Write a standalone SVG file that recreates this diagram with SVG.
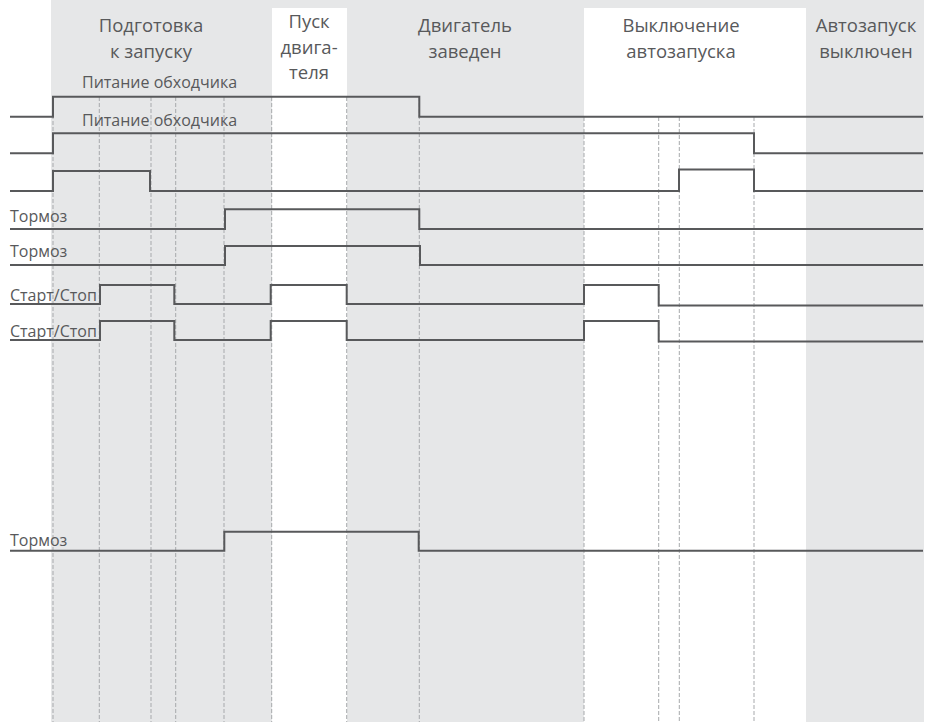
<svg xmlns="http://www.w3.org/2000/svg" width="937" height="722" viewBox="0 0 937 722">
<style>
.bg{fill:#e6e7e8}
.wh{fill:#ffffff}
.grid{stroke:#a7a9ac;stroke-width:1;stroke-dasharray:4 2;fill:none}
.sig{stroke:#58595b;stroke-width:2;fill:none}
.hd{font-family:"Open Sans","Noto Sans",sans-serif;font-size:18.5px;fill:#58595b;text-anchor:middle}
.lb{font-family:"Open Sans","Noto Sans",sans-serif;font-size:16px;fill:#58595b}
</style>
<rect width="937" height="722" fill="#ffffff"/>
<g id="phases">
<rect class="bg" x="51" y="0" width="873" height="722"/>
<rect class="wh" x="272" y="8" width="75" height="714"/>
<rect class="wh" x="584" y="8" width="222" height="714"/>
</g>
<g id="headers">
<text class="hd" x="151" y="32">Подготовка</text>
<text class="hd" x="151" y="58">к запуску</text>
<text class="hd" x="309" y="28">Пуск</text>
<text class="hd" x="309" y="54">двига-</text>
<text class="hd" x="309" y="79">теля</text>
<text class="hd" x="465" y="32">Двигатель</text>
<text class="hd" x="465" y="58">заведен</text>
<text class="hd" x="681" y="32">Выключение</text>
<text class="hd" x="681" y="58">автозапуска</text>
<text class="hd" x="866" y="32">Автозапуск</text>
<text class="hd" x="866" y="58">выключен</text>
</g>
<g id="grid">
<path class="grid" d="M53 97V722M99.3 97V722M151 97V722M175.7 97V722M224 97V722M271.7 97V722M346.7 97V722M419.3 97V722M584 117V722M658.7 117V722M679.3 117V722M754 117V722"/>
</g>
<g id="signals">
<path class="sig" d="M10 116.7H53V96.7H419.3V116.7H923"/>
<path class="sig" d="M10 153.3H53V133.3H754V153.3H923"/>
<path class="sig" d="M10 191H53V171H150V191H679V169.5H754V191H923"/>
<path class="sig" d="M10 229H225V209.3H419.3V229H923"/>
<path class="sig" d="M10 265H225V246H420V265H923"/>
<path class="sig" d="M10 304H100V285H174.3V304H270.7V285H346.7V304H584V285H658.7V305.5H923"/>
<path class="sig" d="M10 340H100V321H174.3V340H270.7V321H346.7V340H584V321H658.7V341.5H923"/>
<path class="sig" d="M10 550.7H224.3V531.7H418.7V550.7H923"/>
</g>
<g id="labels">
<text class="lb" x="82" y="88">Питание обходчика</text>
<text class="lb" x="82" y="126">Питание обходчика</text>
<text class="lb" x="10" y="222">Тормоз</text>
<text class="lb" x="10" y="257">Тормоз</text>
<text class="lb" x="10" y="301">Старт/Стоп</text>
<text class="lb" x="10" y="337">Старт/Стоп</text>
<text class="lb" x="10" y="546">Тормоз</text>
</g>
</svg>
